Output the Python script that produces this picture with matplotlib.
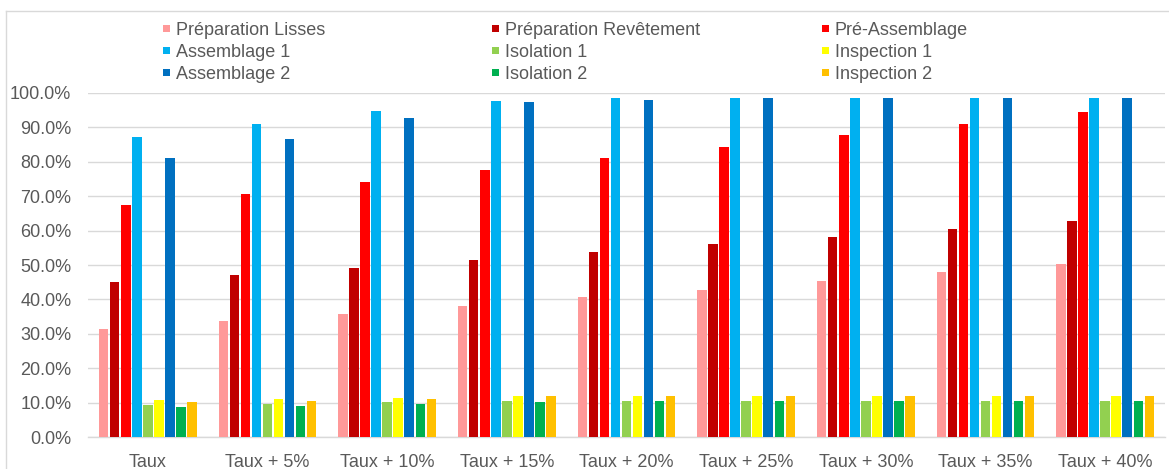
import matplotlib
matplotlib.use("Agg")
import matplotlib.pyplot as plt
from matplotlib.ticker import PercentFormatter, MultipleLocator
from matplotlib.lines import Line2D
import numpy as np

plt.rcParams['font.family'] = ['Liberation Sans', 'DejaVu Sans']

categories = ["Taux", "Taux + 5%", "Taux + 10%", "Taux + 15%", "Taux + 20%",
              "Taux + 25%", "Taux + 30%", "Taux + 35%", "Taux + 40%"]

series_names = ["Préparation Lisses", "Préparation Revêtement", "Pré-Assemblage",
                "Assemblage 1", "Isolation 1", "Inspection 1",
                "Assemblage 2", "Isolation 2", "Inspection 2"]

preparation_lisses = [0.314, 0.337, 0.357, 0.382, 0.407, 0.428, 0.454, 0.479, 0.504]
preparation_revetement = [0.450, 0.471, 0.492, 0.514, 0.539, 0.560, 0.581, 0.604, 0.628]
pre_assemblage = [0.674, 0.706, 0.742, 0.775, 0.810, 0.842, 0.877, 0.909, 0.945]
assemblage_1 = [0.872, 0.909, 0.948, 0.977, 0.984, 0.984, 0.984, 0.984, 0.984]
isolation_1 = [0.094, 0.098, 0.101, 0.105, 0.105, 0.105, 0.105, 0.105, 0.105]
inspection_1 = [0.108, 0.111, 0.115, 0.119, 0.119, 0.119, 0.119, 0.119, 0.119]
assemblage_2 = [0.810, 0.867, 0.927, 0.973, 0.980, 0.984, 0.984, 0.984, 0.984]
isolation_2 = [0.087, 0.091, 0.098, 0.101, 0.105, 0.105, 0.105, 0.105, 0.105]
inspection_2 = [0.101, 0.104, 0.111, 0.119, 0.119, 0.119, 0.119, 0.119, 0.119]

series_values = [preparation_lisses, preparation_revetement, pre_assemblage,
                 assemblage_1, isolation_1, inspection_1,
                 assemblage_2, isolation_2, inspection_2]

colors = ["#FF9999", "#C00000", "#FF0000", "#00B0F0", "#92D050",
          "#FFFF00", "#0070C0", "#00B050", "#FFC000"]

text_color = "#595959"
grid_color = "#D9D9D9"

W, H = 1169, 469
fig = plt.figure(figsize=(W / 100, H / 100), dpi=100)

# chart frame
fig.add_artist(Line2D([6 / W, 6 / W], [0, 1 - 11 / H], transform=fig.transFigure,
                      color=grid_color, lw=1.0))
fig.add_artist(Line2D([6 / W, 1], [1 - 11 / H, 1 - 11 / H], transform=fig.transFigure,
                      color=grid_color, lw=1.0))

left, right = 88 / W, 1165 / W
bottom, top = 1 - 437.3 / H, 1 - 92.7 / H
ax = fig.add_axes([left, bottom, right - left, top - bottom])

x = np.arange(len(categories))
pitch = 0.0922
n = len(series_values)
bars = []
for j, (vals, col, name) in enumerate(zip(series_values, colors, series_names)):
    b = ax.bar(x + (j - (n - 1) / 2) * pitch, vals, width=pitch * 0.86,
               color=col, label=name, zorder=3, linewidth=0)
    bars.append(b)

ax.set_xlim(-0.5, len(categories) - 0.5)
ax.set_ylim(0, 1.0)
ax.yaxis.set_major_locator(MultipleLocator(0.1))
ax.yaxis.set_major_formatter(PercentFormatter(xmax=1, decimals=1))
ax.set_xticks(x)
ax.set_xticklabels(categories)
ax.grid(axis='y', color=grid_color, lw=1.0, zorder=0)
for s in ["left", "right", "top"]:
    ax.spines[s].set_visible(False)
ax.spines["bottom"].set_color(grid_color)
ax.spines["bottom"].set_linewidth(1.0)
ax.tick_params(axis='both', length=0, labelsize=13, labelcolor=text_color)
ax.tick_params(axis='y', pad=12)
ax.tick_params(axis='x', pad=12)

# legend: three columns, row-major order of the series
col_x = [163 / W, 492 / W, 822 / W]
for c in range(3):
    handles = bars[c::3]
    labels = series_names[c::3]
    fig.legend(handles, labels, loc='upper left', bbox_to_anchor=(col_x[c], 1 - 22 / H),
               frameon=False, fontsize=13, handlelength=0.4, handleheight=0.24,
               handletextpad=0.3, labelspacing=0.27, borderaxespad=0, borderpad=0,
               labelcolor=text_color)

fig.savefig("out.png", dpi=100)
